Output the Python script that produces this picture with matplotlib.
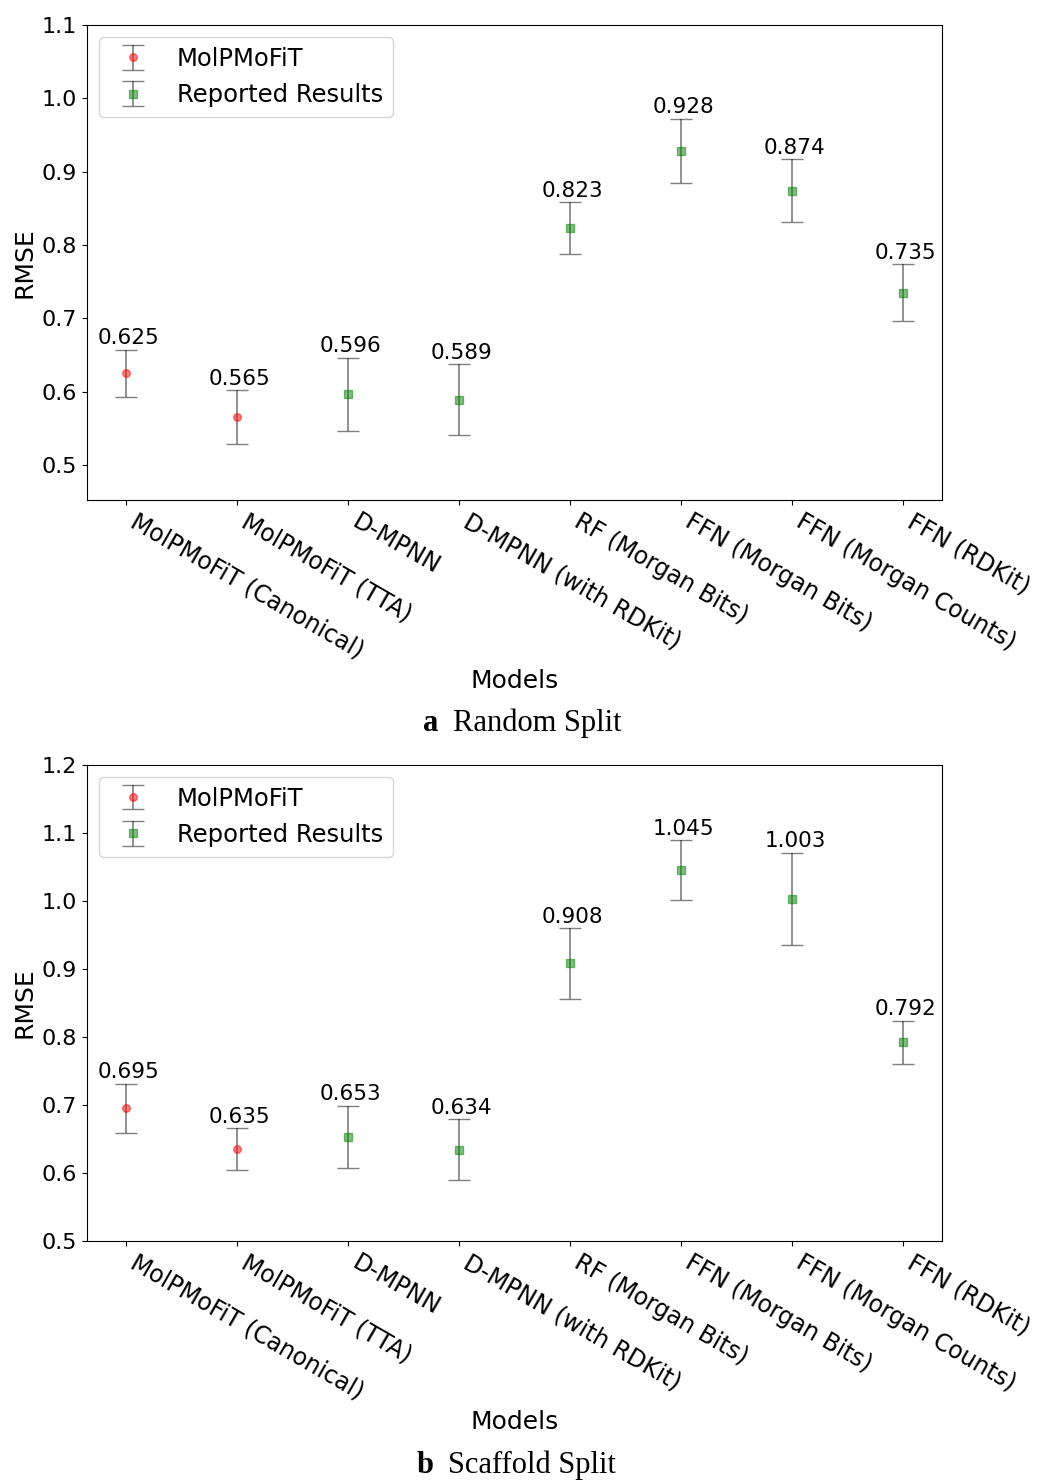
import matplotlib
matplotlib.use("Agg")
import matplotlib.pyplot as plt
import numpy as np

models = ["MolPMoFiT (Canonical)", "MolPMoFiT (TTA)", "D-MPNN", "D-MPNN (with RDKit)",
          "RF (Morgan Bits)", "FFN (Morgan Bits)", "FFN (Morgan Counts)", "FFN (RDKit)"]

# random split
rnd_mol = [0.625, 0.565]
rnd_mol_err = [0.032, 0.037]
rnd_rep = [0.596, 0.589, 0.823, 0.928, 0.874, 0.735]
rnd_rep_err = [0.050, 0.048, 0.035, 0.044, 0.043, 0.039]

# scaffold split
scf_mol = [0.695, 0.635]
scf_mol_err = [0.036, 0.031]
scf_rep = [0.653, 0.634, 0.908, 1.045, 1.003, 0.792]
scf_rep_err = [0.046, 0.045, 0.052, 0.044, 0.068, 0.032]

fig = plt.figure(figsize=(10.37, 14.81), dpi=100)
ax1 = fig.add_axes([0.0839, 0.6624, 0.8245, 0.3207])
ax2 = fig.add_axes([0.0839, 0.1621, 0.8245, 0.3214])


def panel(ax, mol, mol_err, rep, rep_err, ylim, ticks):
    x = np.arange(len(models))
    xm = x[:len(mol)]
    xr = x[len(mol):]
    ax.errorbar(xm, mol, yerr=mol_err, fmt='o', color='red', ecolor='k', capsize=8,
                markersize=5.5, elinewidth=1.2, alpha=0.5, label="MolPMoFiT")
    ax.errorbar(xr, rep, yerr=rep_err, fmt='s', color='green', ecolor='k', capsize=8,
                markersize=5.5, elinewidth=1.2, alpha=0.5, label="Reported Results")
    vals = list(mol) + list(rep)
    errs = list(mol_err) + list(rep_err)
    for i in range(len(vals)):
        ax.annotate("%.3f" % vals[i], (x[i], vals[i] + errs[i]), xytext=(2, 1),
                    textcoords="offset points", ha="center", va="bottom", fontsize=15.5)
    ax.set_xlim(-0.35, len(models) - 0.65)
    ax.set_ylim(*ylim)
    ax.set_yticks(ticks)
    ax.set_xticks(x)
    ax.set_xticklabels(models, rotation=-30, ha="left", fontsize=17)
    ax.tick_params(axis="y", labelsize=16)
    ax.set_xlabel("Models", fontsize=18)
    ax.set_ylabel("RMSE", fontsize=18)
    ax.legend(loc="upper left", fontsize=17.5)


panel(ax1, rnd_mol, rnd_mol_err, rnd_rep, rnd_rep_err, (0.452, 1.1),
      [0.5, 0.6, 0.7, 0.8, 0.9, 1.0, 1.1])
panel(ax2, scf_mol, scf_mol_err, scf_rep, scf_rep_err, (0.5, 1.2),
      [0.5, 0.6, 0.7, 0.8, 0.9, 1.0, 1.1, 1.2])

# captions
fig.text(0.415, 0.5118, "a", fontsize=22, family="Liberation Serif", weight="bold",
         ha="center", va="center")
fig.text(0.437, 0.5118, "Random Split", fontsize=22, family="Liberation Serif",
         ha="left", va="center")
fig.text(0.41, 0.0108, "b", fontsize=22, family="Liberation Serif", weight="bold",
         ha="center", va="center")
fig.text(0.432, 0.0108, "Scaffold Split", fontsize=22, family="Liberation Serif",
         ha="left", va="center")

fig.savefig("out.png", dpi=100)
